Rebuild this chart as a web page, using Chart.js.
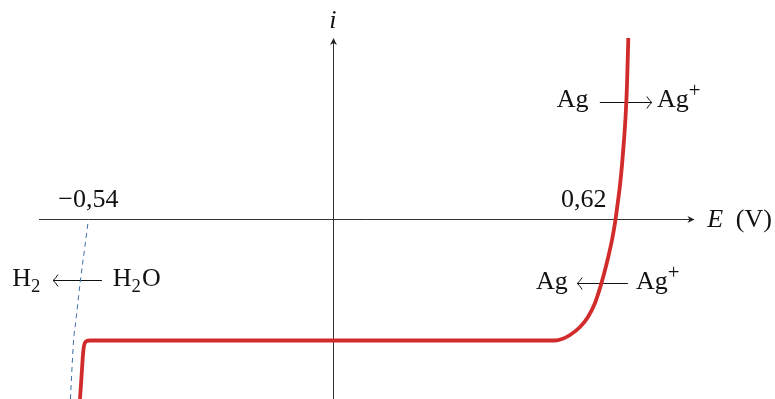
<!DOCTYPE html>
<html>
<head>
<meta charset="utf-8">
<script src="https://cdn.jsdelivr.net/npm/chart.js@4.4.1/dist/chart.umd.min.js"></script>
<style>
  html, body { margin: 0; padding: 0; background: #fff; }
  #wrap { width: 775px; height: 399px; }
</style>
</head>
<body>
<div id="wrap"><canvas id="chart" width="775" height="399"></canvas></div>
<script>
// courbe i = f(E) de l'argent (rouge)
const redE = [-0.5585, -0.5563, -0.5541, -0.5519, -0.5497, -0.5453, -0.5364, 0.4901, 0.5055, 0.5232, 0.5453, 0.5629, 0.5784, 0.5894, 0.5982, 0.6071, 0.6159, 0.6225, 0.6280, 0.6336, 0.6380, 0.6424, 0.6457, 0.6490, 0.6519];
const redI = [-1.80, -1.66, -1.51, -1.36, -1.27, -1.225, -1.215, -1.215, -1.20, -1.16, -1.08, -0.98, -0.84, -0.69, -0.55, -0.39, -0.21, -0.04, 0.14, 0.34, 0.54, 0.79, 1.01, 1.34, 1.81];

// réduction de l'eau (pointillés bleus)
const eauE = [-0.5795, -0.5728, -0.5673, -0.5574, -0.5486, -0.5397];
const eauI = [-1.80, -1.23, -1.01, -0.61, -0.31, 0.0];

// graduations
const tickE = [-0.54, 0.62];
const tickLabels = ['\u22120,54', '0,62'];

const FONT = '"Liberation Serif", "DejaVu Serif", serif';

function richText(ctx, x, y, parts, size) {
  // parts : [texte, type] avec type '', 'sub', 'sup', 'it'
  parts.forEach(([t, k]) => {
    const small = k === 'sub' || k === 'sup';
    const s = small ? size * (k === 'sup' ? 0.8 : 0.72) : size;
    ctx.font = (k === 'it' ? 'italic ' : '') + s + 'px ' + FONT;
    const dy = k === 'sub' ? size * 0.24 : k === 'sup' ? -size * 0.4 : 0;
    ctx.fillText(t, x, y + dy);
    x += ctx.measureText(t).width + (small ? 1 : 0);
  });
  return x;
}

function toArrow(ctx, x1, x2, y) {
  // flèche type "to" de TikZ
  const dir = Math.sign(x2 - x1);
  ctx.beginPath();
  ctx.moveTo(x1, y);
  ctx.lineTo(x2, y);
  ctx.stroke();
  ctx.beginPath();
  ctx.moveTo(x2 - dir * 5, y - 6);
  ctx.quadraticCurveTo(x2 - dir * 2, y - 1, x2, y);
  ctx.quadraticCurveTo(x2 - dir * 2, y + 1, x2 - dir * 5, y + 6);
  ctx.stroke();
}

function axisHead(ctx, x, y, ang) {
  ctx.save();
  ctx.translate(x, y);
  ctx.rotate(ang);
  ctx.beginPath();
  ctx.moveTo(0, 0);
  ctx.lineTo(-7, -3.5);
  ctx.lineTo(-5, 0);
  ctx.lineTo(-7, 3.5);
  ctx.closePath();
  ctx.fill();
  ctx.restore();
}

const axesPlugin = {
  id: 'axes',
  beforeDatasetsDraw(chart) {
    const { ctx, scales: { x, y } } = chart;
    const X = v => x.getPixelForValue(v), Y = v => y.getPixelForValue(v);
    const y0 = Math.round(Y(0)) + 0.5, x0 = Math.round(X(0)) + 0.5;
    ctx.save();
    ctx.strokeStyle = '#333';
    ctx.fillStyle = '#222';
    ctx.lineWidth = 1;
    // axe E
    ctx.beginPath();
    ctx.moveTo(X(-0.649), y0);
    ctx.lineTo(X(0.796), y0);
    ctx.stroke();
    axisHead(ctx, X(0.798), y0, 0);
    // axe i
    ctx.beginPath();
    ctx.moveTo(x0, Y(-1.80));
    ctx.lineTo(x0, Y(1.79));
    ctx.stroke();
    axisHead(ctx, x0, Y(1.81), -Math.PI / 2);

    // flèches des couples
    ctx.strokeStyle = '#111';
    toArrow(ctx, X(0.589), X(0.704), Math.round(Y(1.175)) + 0.5);
    toArrow(ctx, X(0.651), X(0.539), Math.round(Y(-0.64)) + 0.5);
    toArrow(ctx, X(-0.510), X(-0.618), Math.round(Y(-0.61)) + 0.5);
    ctx.restore();
  },
  afterDatasetsDraw(chart) {
    const { ctx, scales: { x, y } } = chart;
    const X = v => x.getPixelForValue(v), Y = v => y.getPixelForValue(v);
    const size = 26;
    ctx.save();
    ctx.fillStyle = '#111';
    ctx.textBaseline = 'alphabetic';

    // graduations
    ctx.font = size + 'px ' + FONT;
    ctx.textAlign = 'center';
    ctx.fillText(tickLabels[0], X(tickE[0]), Y(0.12));
    ctx.textAlign = 'right';
    ctx.fillText(tickLabels[1], X(0.604), Y(0.12));

    // titres des axes
    ctx.textAlign = 'center';
    ctx.font = 'italic ' + size + 'px ' + FONT;
    ctx.fillText('i', X(0), Y(1.91));
    ctx.textAlign = 'left';
    richText(ctx, X(0.826), Y(-0.08), [['E', 'it']], size);
    richText(ctx, X(0.889), Y(-0.08), [['(V)', '']], size);

    // couples
    richText(ctx, X(0.494), Y(1.12), [['Ag', '']], size);
    richText(ctx, X(0.715), Y(1.12), [['Ag', ''], ['+', 'sup']], size);
    richText(ctx, X(0.448), Y(-0.70), [['Ag', '']], size);
    richText(ctx, X(0.669), Y(-0.70), [['Ag', ''], ['+', 'sup']], size);
    richText(ctx, X(-0.708), Y(-0.67), [['H', ''], ['2', 'sub']], size);
    richText(ctx, X(-0.486), Y(-0.67), [['H', ''], ['2', 'sub'], ['O', '']], size);
    ctx.restore();
  }
};

new Chart(document.getElementById('chart'), {
  type: 'scatter',
  data: {
    datasets: [
      {
        data: eauE.map((e, k) => ({ x: e, y: eauI[k] })),
        showLine: true,
        borderColor: '#3f6fa6',
        borderWidth: 1,
        borderDash: [5, 4],
        pointRadius: 0,
        cubicInterpolationMode: 'monotone'
      },
      {
        data: redE.map((e, k) => ({ x: e, y: redI[k] })),
        showLine: true,
        borderColor: '#d22b2b',
        borderWidth: 3.8,
        pointRadius: 0,
        cubicInterpolationMode: 'monotone'
      }
    ]
  },
  options: {
    responsive: false,
    animation: false,
    layout: { padding: 0 },
    scales: {
      x: { type: 'linear', min: -0.735, max: 0.9757, display: false },
      y: { type: 'linear', min: -1.80, max: 2.19, display: false }
    },
    plugins: { legend: { display: false }, tooltip: { enabled: false } }
  },
  plugins: [axesPlugin]
});
</script>
</body>
</html>
